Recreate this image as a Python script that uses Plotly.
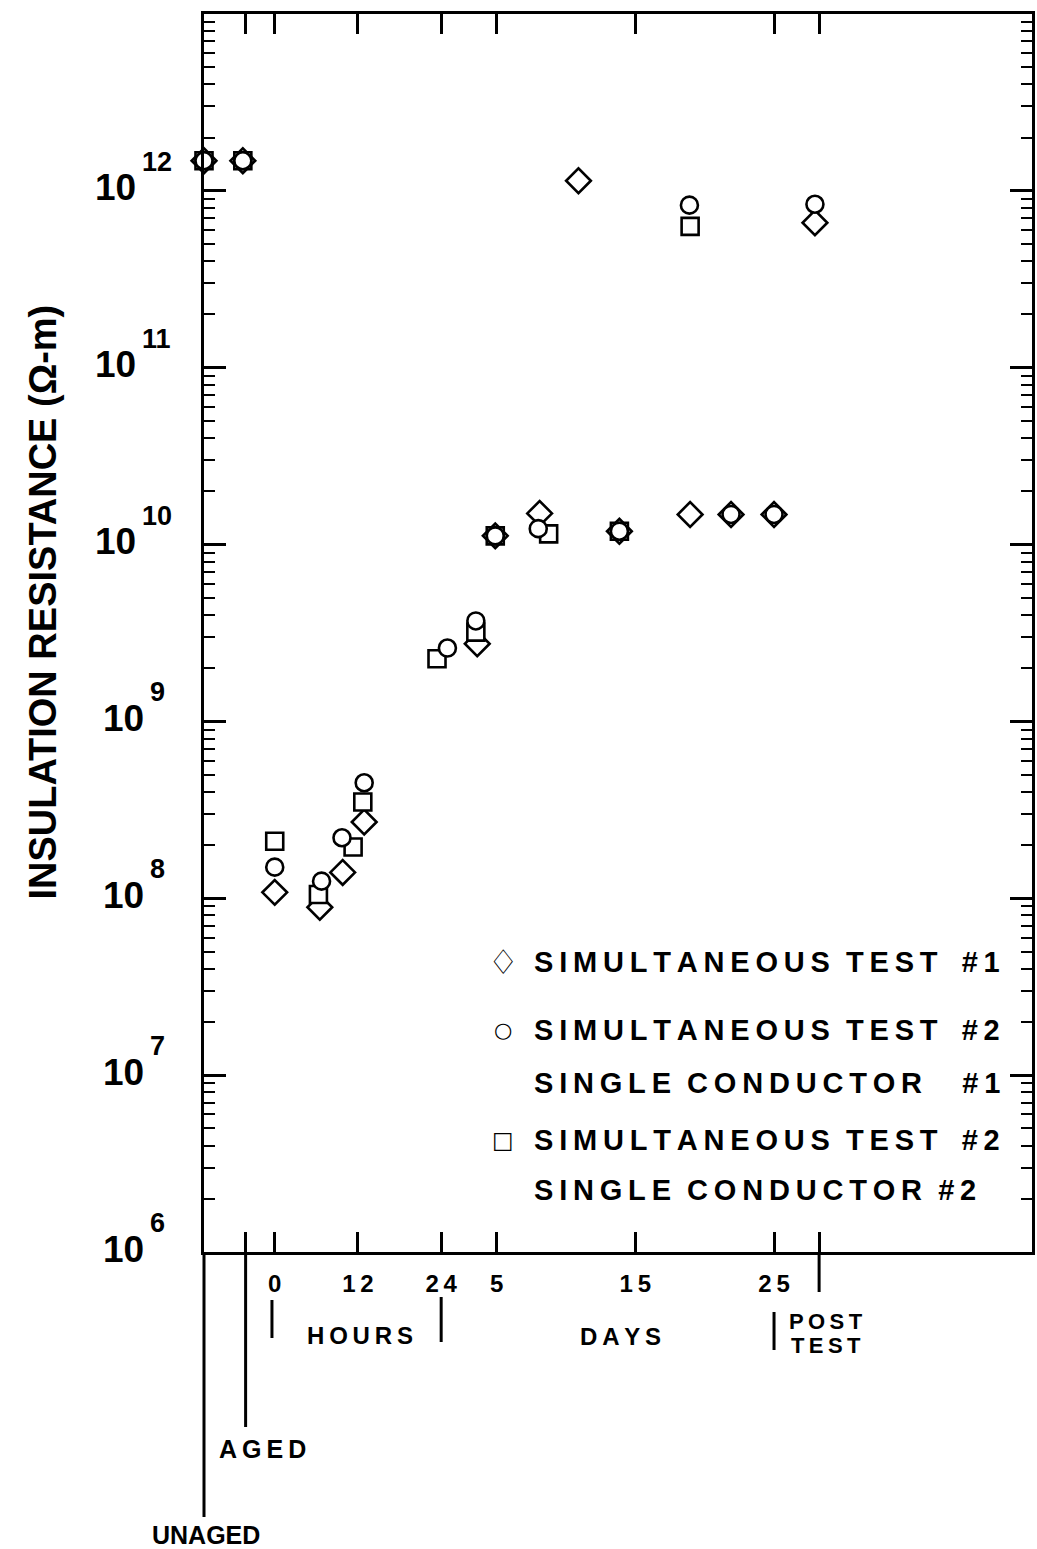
import plotly.graph_objects as go

# ---------------- data ----------------
# Composite time axis: hours 0..24 -> 0..24 units; days d -> 24 + 2*(d-1) units
# unaged sits on the left axis, aged at about -4.6, post-test at about 78
s1_x = [-10.2, -4.6, 0.0, 6.5, 9.8, 12.9, 29.2, 31.8, 38.2, 43.8, 49.7, 59.9, 65.8, 72.0, 77.9]
s1_y = [1.48e12, 1.48e12, 1.08e8, 8.9e7, 1.4e8, 2.7e8, 2.75e9, 1.12e10, 1.5e10, 1.14e12,
        1.19e10, 1.48e10, 1.48e10, 1.48e10, 6.6e11]

s2_x = [-10.2, -4.6, 0.0, 6.75, 9.7, 12.9, 24.9, 29.0, 31.8, 38.0, 49.7, 59.8, 65.8, 72.0, 77.9]
s2_y = [1.48e12, 1.48e12, 1.5e8, 1.25e8, 2.2e8, 4.5e8, 2.6e9, 3.7e9, 1.12e10, 1.23e10,
        1.19e10, 8.3e11, 1.48e10, 1.48e10, 8.4e11]

s3_x = [-10.2, -4.6, 0.0, 6.3, 11.3, 12.7, 23.4, 29.0, 31.8, 39.5, 49.7, 59.9]
s3_y = [1.48e12, 1.48e12, 2.1e8, 1.05e8, 1.95e8, 3.5e8, 2.26e9, 3.2e9, 1.12e10, 1.15e10,
        1.19e10, 6.3e11]

series_names = ["SIMULTANEOUS TEST #1",
                "SIMULTANEOUS TEST #2 SINGLE CONDUCTOR #1",
                "SIMULTANEOUS TEST #2 SINGLE CONDUCTOR #2"]

x_tickvals = [-4.2, 0, 12, 24, 32, 52, 72, 78.5]
x_ticktext = [" ", "0", "12", "24", "5", "15", "25", " "]

y_exponents = [6, 7, 8, 9, 10, 11, 12]

# ---------------- layout helpers ----------------
W, H = 1037, 1549
L, R, T, B = 204, 2, 14, 297
PW, PH = W - L - R, H - T - B
FONT = "Liberation Sans, Arial, Helvetica, sans-serif"
TS = "\u2009"
NB = "\u00a0"


def sp(s):
    # letter-spaced text; word gaps kept with non-breaking spaces
    words = s.split(" ")
    return (NB + NB).join(TS.join(w) for w in words)


def px(x):
    return (x - L) / PW


def py(y):
    return (H - B - y) / PH


fig = go.Figure()

marker_line = dict(color="black", width=2.6)
fig.add_trace(go.Scatter(x=s1_x, y=s1_y, mode="markers", name=series_names[0],
                         marker=dict(symbol="diamond", size=19, color="white", line=marker_line),
                         cliponaxis=False, showlegend=False))
fig.add_trace(go.Scatter(x=s3_x, y=s3_y, mode="markers", name=series_names[2],
                         marker=dict(symbol="square", size=17, color="white", line=marker_line),
                         cliponaxis=False, showlegend=False))
fig.add_trace(go.Scatter(x=s2_x, y=s2_y, mode="markers", name=series_names[1],
                         marker=dict(symbol="circle", size=17, color="white", line=marker_line),
                         cliponaxis=False, showlegend=False))

fig.update_layout(
    width=W, height=H,
    margin=dict(l=L, r=R, t=T, b=B, pad=0),
    paper_bgcolor="white", plot_bgcolor="white",
    showlegend=False,
    font=dict(family=FONT, color="black"),
)

fig.update_xaxes(
    range=[-10.2, 109.2], showgrid=False, zeroline=False,
    showline=True, linecolor="black", linewidth=3, mirror="ticks",
    ticks="inside", ticklen=20, tickwidth=2.5, tickcolor="black",
    tickvals=x_tickvals, ticktext=[TS.join(t) if t.strip() else t for t in x_ticktext],
    tickfont=dict(family=FONT, size=24, weight="bold", color="black"),
    ticklabelstandoff=8,
)
fig.update_yaxes(
    type="log", range=[6, 13], showgrid=False, zeroline=False,
    showline=True, linecolor="black", linewidth=3, mirror="ticks",
    ticks="inside", ticklen=22, tickwidth=2.5, tickcolor="black",
    tickvals=[10 ** e for e in y_exponents], showticklabels=False,
    minor=dict(ticks="inside", ticklen=11, tickwidth=2.2, tickcolor="black",
               dtick="D1", showgrid=False),
)

ann = []
# y tick labels: base "10" centred on the tick, exponent raised above it
for e in y_exponents:
    two = e >= 10
    split = 138 if two else 146
    ann.append(dict(xref="paper", yref="y", x=px(split), y=e, xanchor="right", yanchor="middle",
                    text="10", showarrow=False, yshift=3,
                    font=dict(family=FONT, size=37, weight="bold", color="black")))
    ann.append(dict(xref="paper", yref="y", x=px(split + 2), y=e, xanchor="left", yanchor="middle",
                    text=str(e), showarrow=False, yshift=29,
                    font=dict(family=FONT, size=27, weight="bold", color="black")))
# y title
ann.append(dict(xref="paper", yref="paper", x=px(42), y=py(602), xanchor="center", yanchor="middle",
                text="INSULATION RESISTANCE (Ω-m)", textangle=-90, showarrow=False,
                font=dict(family=FONT, size=38, weight="bold", color="black")))


def label(text, x, y, size=24, xanchor="center"):
    ann.append(dict(xref="paper", yref="paper", x=px(x), y=py(y), xanchor=xanchor, yanchor="middle",
                    text=text, showarrow=False,
                    font=dict(family=FONT, size=size, weight="bold", color="black")))


label(sp("HOURS"), 361, 1335)
label(sp("DAYS"), 622, 1336)
label(sp("POST"), 789, 1321, size=22, xanchor="left")
label(sp("TEST"), 791, 1346, size=22, xanchor="left")
label(sp("AGED"), 217, 1449, size=25, xanchor="left")
label("UNAGED", 206, 1535, size=25)

# legend (text + glyphs)
G2 = NB + NB + NB
leg_rows = [("♢", 34, sp("SIMULTANEOUS TEST") + G2 + sp("#1"), 962),
            ("○", 21, sp("SIMULTANEOUS TEST") + G2 + sp("#2"), 1030),
            ("", 0, sp("SINGLE CONDUCTOR") + G2 + NB + NB + sp("#1"), 1083),
            ("□", 23, sp("SIMULTANEOUS TEST") + G2 + sp("#2"), 1140),
            ("", 0, sp("SINGLE CONDUCTOR") + NB + NB + sp("#2"), 1190)]
for sym, ssize, txt, y in leg_rows:
    label(txt, 533, y, size=29, xanchor="left")
    if sym:
        ann.append(dict(xref="paper", yref="paper", x=px(504), y=py(y), xanchor="center",
                        yanchor="middle", text=sym, showarrow=False,
                        font=dict(family="DejaVu Sans", size=ssize, weight="bold", color="black")))
fig.update_layout(annotations=ann)

# separator / extension lines under the axis
lines = [("paper", 0, 1252, 1517), ("x", -4.2, 1252, 1427), ("x", -0.4, 1300, 1338),
         ("x", 24, 1297, 1342), ("x", 72, 1312, 1350), ("x", 78.5, 1252, 1292)]
shapes = []
for xref, xv, y0, y1 in lines:
    shapes.append(dict(type="line", xref=xref, yref="paper", x0=xv, x1=xv, y0=py(y0), y1=py(y1),
                       line=dict(color="black", width=3)))
fig.update_layout(shapes=shapes)

fig.write_html("out.html")
